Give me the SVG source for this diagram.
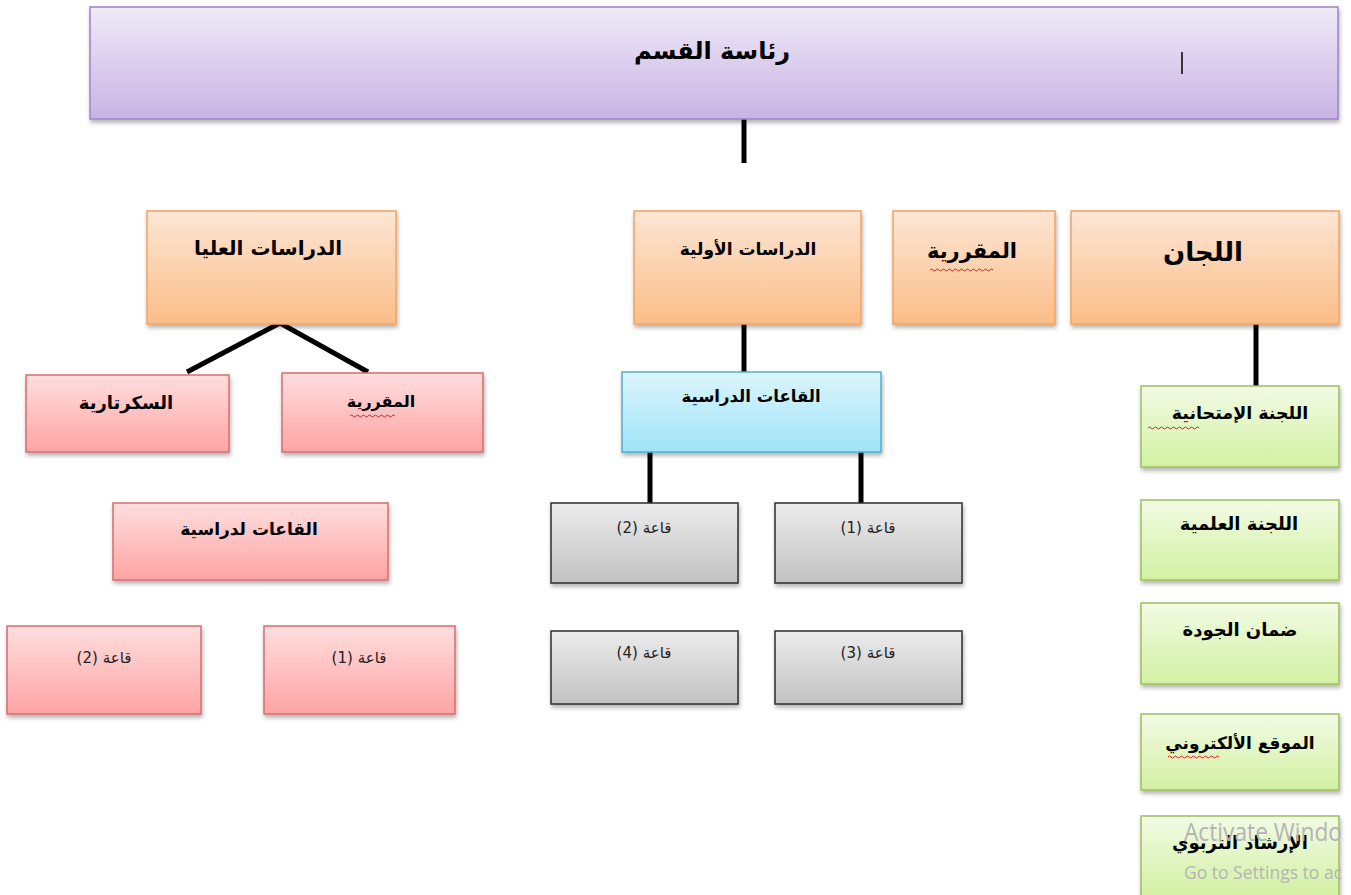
<svg xmlns="http://www.w3.org/2000/svg" width="1351" height="895" viewBox="0 0 1351 895">
<defs>
<linearGradient id="gPurple" x1="0" y1="0" x2="0" y2="1"><stop offset="0" stop-color="#f0eaf8"/><stop offset="1" stop-color="#c8b3e4"/></linearGradient>
<linearGradient id="gOrange" x1="0" y1="0" x2="0" y2="1"><stop offset="0" stop-color="#fde6d4"/><stop offset="1" stop-color="#fbbd88"/></linearGradient>
<linearGradient id="gPink" x1="0" y1="0" x2="0" y2="1"><stop offset="0" stop-color="#ffdede"/><stop offset="1" stop-color="#ffa3a3"/></linearGradient>
<linearGradient id="gBlue" x1="0" y1="0" x2="0" y2="1"><stop offset="0" stop-color="#dcf4fc"/><stop offset="1" stop-color="#9fe4f9"/></linearGradient>
<linearGradient id="gGray" x1="0" y1="0" x2="0" y2="1"><stop offset="0" stop-color="#ececec"/><stop offset="1" stop-color="#c2c2c2"/></linearGradient>
<linearGradient id="gGreen" x1="0" y1="0" x2="0" y2="1"><stop offset="0" stop-color="#f2fbe4"/><stop offset="1" stop-color="#d2f0a2"/></linearGradient>
<filter id="sh" x="-5%" y="-10%" width="110%" height="130%"><feDropShadow dx="1" dy="3" stdDeviation="2" flood-color="#000" flood-opacity="0.3"/></filter>
</defs>
<style>
.box{filter:url(#sh);stroke-width:1.5}
.purple{fill:url(#gPurple);stroke:#9d82c6}
.orange{fill:url(#gOrange);stroke:#f6a35e}
.pink{fill:url(#gPink);stroke:#d66e6e}
.blue{fill:url(#gBlue);stroke:#4eb0cb}
.gray{fill:url(#gGray);stroke:#2e2e2e}
.green{fill:url(#gGreen);stroke:#9dc05c}
.t{font-family:"DejaVu Sans",sans-serif;font-weight:bold;fill:#000;text-anchor:middle;direction:rtl}
.s{font-family:"DejaVu Sans",sans-serif;fill:#222;text-anchor:middle;direction:rtl;font-size:15px}
.wave{fill:none;stroke:#e02020;stroke-width:1}
.conn{stroke:#000;stroke-width:5;fill:none}
.wm{font-family:"Open Sans",sans-serif;fill:#b4b4b4}
</style>
<g id="connectors">
<line class="conn" x1="744" y1="119" x2="744" y2="163"/>
<polyline class="conn" stroke-width="6" points="187,372 280,323 368,372"/>
<line class="conn" x1="744" y1="324" x2="744" y2="372"/>
<line class="conn" x1="650" y1="452" x2="650" y2="503"/>
<line class="conn" x1="861" y1="452" x2="861" y2="503"/>
<line class="conn" x1="1256" y1="324" x2="1256" y2="386"/>
</g>
<g id="head">
<rect class="box purple" x="90" y="7" width="1248" height="112"/>
<text class="t" x="712" y="59" font-size="24">رئاسة القسم</text>
<line x1="1182" y1="52" x2="1182" y2="74" stroke="#000" stroke-width="1.5"/>
</g>
<g id="higher">
<rect class="box orange" x="147" y="211" width="249" height="113"/>
<text class="t" x="268" y="255" font-size="20">الدراسات العليا</text>
</g>
<g id="undergrad">
<rect class="box orange" x="634" y="211" width="227" height="113"/>
<text class="t" x="748" y="255" font-size="17">الدراسات الأولية</text>
</g>
<g id="reg">
<rect class="box orange" x="893" y="211" width="162" height="113"/>
<text class="t" x="972" y="258" font-size="21">المقررية</text>
<path class="wave" d="M930 270 q1.5 -2 3 0 t3 0 t3 0 t3 0 t3 0 t3 0 t3 0 t3 0 t3 0 t3 0 t3 0 t3 0 t3 0 t3 0 t3 0 t3 0 t3 0 t3 0 t3 0 t3 0 t3 0"/>
</g>
<g id="committees">
<rect class="box orange" x="1071" y="211" width="268" height="113"/>
<text class="t" x="1203" y="261" font-size="26">اللجان</text>
</g>
<g id="secretary">
<rect class="box pink" x="26" y="375" width="203" height="77"/>
<text class="t" x="126" y="409" font-size="18">السكرتارية</text>
</g>
<g id="reg2">
<rect class="box pink" x="282" y="373" width="201" height="79"/>
<text class="t" x="381" y="407" font-size="16">المقررية</text>
<path class="wave" d="M350 416 q1.5 -2 3 0 t3 0 t3 0 t3 0 t3 0 t3 0 t3 0 t3 0 t3 0 t3 0 t3 0 t3 0 t3 0 t3 0 t3 0"/>
</g>
<g id="halls-pg">
<rect class="box pink" x="113" y="503" width="275" height="77"/>
<text class="t" x="249" y="535" font-size="17">القاعات لدراسية</text>
</g>
<g id="pg-hall2">
<rect class="box pink" x="7" y="626" width="194" height="88"/>
<text class="s" x="104" y="663">قاعة (2)</text>
</g>
<g id="pg-hall1">
<rect class="box pink" x="264" y="626" width="191" height="88"/>
<text class="s" x="359" y="663">قاعة (1)</text>
</g>
<g id="halls">
<rect class="box blue" x="622" y="372" width="259" height="80"/>
<text class="t" x="751" y="402" font-size="16.5">القاعات الدراسية</text>
</g>
<g id="hall2">
<rect class="box gray" x="551" y="503" width="187" height="80"/>
<text class="s" x="644" y="533">قاعة (2)</text>
</g>
<g id="hall1">
<rect class="box gray" x="775" y="503" width="187" height="80"/>
<text class="s" x="868" y="533">قاعة (1)</text>
</g>
<g id="hall4">
<rect class="box gray" x="551" y="631" width="187" height="73"/>
<text class="s" x="644" y="658">قاعة (4)</text>
</g>
<g id="hall3">
<rect class="box gray" x="775" y="631" width="187" height="73"/>
<text class="s" x="868" y="658">قاعة (3)</text>
</g>
<g id="exam">
<rect class="box green" x="1141" y="386" width="198" height="81"/>
<text class="t" x="1240" y="419" font-size="17.5">اللجنة الإمتحانية</text>
<path class="wave" d="M1148 428 q1.5 -2 3 0 t3 0 t3 0 t3 0 t3 0 t3 0 t3 0 t3 0 t3 0 t3 0 t3 0 t3 0 t3 0 t3 0 t3 0 t3 0 t3 0"/>
</g>
<g id="sci">
<rect class="box green" x="1141" y="500" width="198" height="80"/>
<text class="t" x="1239" y="530" font-size="18">اللجنة العلمية</text>
</g>
<g id="quality">
<rect class="box green" x="1141" y="603" width="198" height="81"/>
<text class="t" x="1240" y="636" font-size="18">ضمان الجودة</text>
</g>
<g id="web">
<rect class="box green" x="1141" y="714" width="198" height="76"/>
<text class="t" x="1240" y="749" font-size="17">الموقع الألكتروني</text>
<path class="wave" d="M1168 757 q1.5 -2 3 0 t3 0 t3 0 t3 0 t3 0 t3 0 t3 0 t3 0 t3 0 t3 0 t3 0 t3 0 t3 0 t3 0 t3 0 t3 0 t3 0"/>
</g>
<g id="guidance">
<rect class="box green" x="1141" y="816" width="198" height="82"/>
<text class="t" x="1240" y="849" font-size="18">الإرشاد التربوي</text>
</g>
<g id="watermark">
<text class="wm" x="1184" y="841" font-size="25" textLength="158" lengthAdjust="spacingAndGlyphs">Activate Windo</text>
<text class="wm" x="1184" y="879" font-size="18" textLength="158" lengthAdjust="spacingAndGlyphs">Go to Settings to ac</text>
</g>
</svg>
